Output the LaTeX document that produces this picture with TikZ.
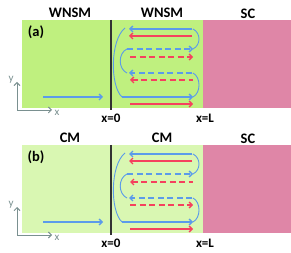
\documentclass[tikz,border=0pt]{standalone}
\usepackage{fontspec}
\setmainfont{Carlito}
\usetikzlibrary{arrows.meta}
\definecolor{wgreen}{HTML}{BFF07F}
\definecolor{cgreen}{HTML}{D9F7B2}
\definecolor{scpink}{HTML}{DF86A7}
\definecolor{eblue}{HTML}{5B9BEA}
\definecolor{hred}{HTML}{F5415E}
\definecolor{axgray}{HTML}{7A9090}
\tikzset{
  >={Straight Barb[length=3pt,width=6pt]},
  title/.style={font=\fontsize{14.5}{16}\selectfont\bfseries},
  xlabel/.style={font=\fontsize{13}{15}\selectfont\bfseries},
  blu/.style={eblue, line width=1.3pt},
  rd/.style={hred, line width=1.3pt},
  dsh/.style={dash pattern=on 6pt off 3.5pt},
  turn/.style={eblue, line width=0.9pt}
}
\begin{document}
\begin{tikzpicture}[x=1pt,y=-1pt]
  \useasboundingbox (0,0) rectangle (291,253);
  \foreach \pn/\dy/\mat/\bg/\rtwo/\rthree in {a/20/WNSM/wgreen/->/<-, b/145/CM/cgreen/<-/->}{
    \begin{scope}[yshift=-\dy pt]
      \fill[\bg] (22,0) rectangle (203,88);
      \fill[scpink] (203,0) rectangle (291,88);
      \draw[line width=2.6pt, black!80] (111,0) -- (111,90);
      \node[title] (left-\pn) at (70,-7) {\mat};
      \node[title] (right-\pn) at (162,-7) {\mat};
      \node[title] (sc-\pn) at (248,-6) {SC};
      \node[title] (lab-\pn) at (36,12) {(\pn)};
      \node[xlabel] (xz-\pn) at (111,98) {x=0};
      \node[xlabel] (xl-\pn) at (205,98) {x=L};
      % axes
      \draw[axgray, line width=0.9pt, ->] (17,90) -- (17,62);
      \draw[axgray, line width=0.9pt, ->] (17,90) -- (52,90);
      \node[axgray, font=\fontsize{11}{12}\selectfont] (ya-\pn) at (11,60) {y};
      \node[axgray, font=\fontsize{11}{12}\selectfont] (xa-\pn) at (57,93) {x};
      % incoming
      \draw[blu, ->] (43,77) -- (103,77);
      % edge channel
      \draw[blu, ->] (192,9) -- (129,9);
      \draw[rd, ->] (192,16) -- (129,16);
      \draw[blu, dsh, ->] (127,29) -- (193,29);
      \draw[rd, dsh, \rtwo] (130,37) -- (193,37);
      \draw[blu, dsh, ->] (192,53) -- (129,53);
      \draw[rd, dsh, \rthree] (130,60) -- (193,60);
      \draw[blu, ->] (122,77) -- (193,77);
      \draw[rd, ->] (130,84) -- (193,84);
      % turning arcs
      \draw[turn] (125,8) .. controls (110,20) and (110,66) .. (122,77);
      \draw[turn] (127,29) .. controls (118,33) and (118,49) .. (127,53);
      \draw[turn] (193,9) .. controls (201,13) and (201,25) .. (193,29);
      \draw[turn] (193,53) .. controls (201,57) and (201,73) .. (193,77);
    \end{scope}
  }
\end{tikzpicture}
\end{document}
